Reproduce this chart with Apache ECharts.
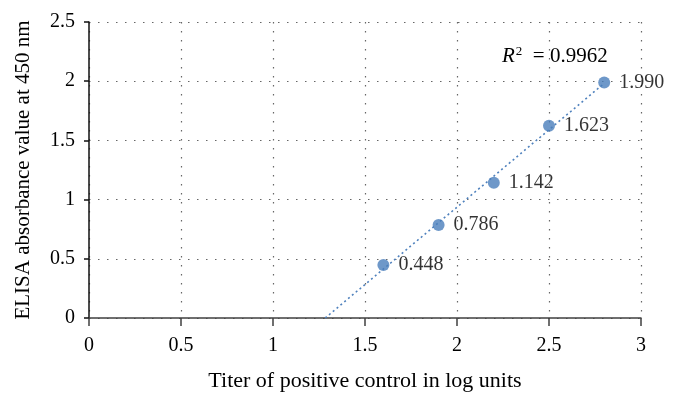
<!DOCTYPE html>
<html>
<head>
    <meta charset="utf-8">
    <title>ELISA titer</title>
    <script src="https://cdn.jsdelivr.net/npm/echarts@6/dist/echarts.min.js"></script>
</head>
<body style="margin:0">
<div id="main" style="width: 680px;height:403px;"></div>

<script type="text/javascript">
    // titer values (log units) and absorbance
    var titer = [1.6, 1.9, 2.2, 2.5, 2.8];
    var absorbance = [0.448, 0.786, 1.142, 1.623, 1.990];
    var r2Text = '0.9962';

    // least squares fit for the dotted trend line
    var n = titer.length, mx = 0, my = 0;
    for (var i = 0; i < n; i++) { mx += titer[i]; my += absorbance[i]; }
    mx = mx / n; my = my / n;
    var sxy = 0, sxx = 0;
    for (var i = 0; i < n; i++) {
        sxy += (titer[i] - mx) * (absorbance[i] - my);
        sxx += (titer[i] - mx) * (titer[i] - mx);
    }
    var slope = sxy / sxx;
    var icpt = my - slope * mx;
    var x0 = -icpt / slope;
    var xEnd = titer[n - 1];
    var trend = [[x0, 0], [xEnd, slope * xEnd + icpt]];

    var pts = [];
    for (var i = 0; i < n; i++) pts.push([titer[i], absorbance[i]]);

    var font = '"Liberation Serif", serif';
    var myChart = echarts.init(document.getElementById('main'));
    myChart.setOption({
        animation: false,
        textStyle: { fontFamily: font },
        grid: { left: 89, right: 39, top: 22, bottom: 85, outerBoundsMode: 'none', containLabel: false },
        xAxis: {
            type: 'value', min: 0, max: 3, interval: 0.5,
            name: 'Titer of positive control in log units',
            nameLocation: 'middle', nameGap: 52,
            nameTextStyle: { fontFamily: font, fontSize: 22, color: '#000' },
            axisLine: { lineStyle: { color: '#404040', width: 1.5 } },
            axisTick: { show: true, length: 8, lineStyle: { color: '#404040', width: 1.5 } },
            axisLabel: { margin: 18, fontFamily: font, fontSize: 20, color: '#000' },
            splitLine: { show: true, lineStyle: { type: [1.5, 7.5], color: '#666', width: 1.2 } }
        },
        yAxis: {
            type: 'value', min: 0, max: 2.5, interval: 0.5,
            name: 'ELISA absorbance value at 450 nm',
            nameLocation: 'middle', nameGap: 55,
            nameTextStyle: { fontFamily: font, fontSize: 21, color: '#000' },
            axisLine: { show: true, lineStyle: { color: '#111', width: 1.5 } },
            axisTick: { show: true, length: 5, lineStyle: { color: '#111', width: 1.5 } },
            axisLabel: { margin: 14, fontFamily: font, fontSize: 20, color: '#000' },
            splitLine: { show: true, lineStyle: { type: [1.5, 7.5], color: '#666', width: 1.2 } }
        },
        series: [
            {
                type: 'line',
                data: trend,
                symbol: 'none',
                lineStyle: { color: '#4F81BD', width: 1.6, type: [2, 3] },
                z: 2
            },
            {
                type: 'scatter',
                data: pts,
                symbolSize: 12,
                itemStyle: { color: '#4A7EBB' },
                label: {
                    show: true, position: 'right', distance: 9,
                    fontFamily: font, fontSize: 20, color: '#000',
                    formatter: function (p) { return p.value[1].toFixed(3); }
                },
                z: 3
            }
        ],
        graphic: [{
            type: 'text',
            left: 502, top: 45,
            style: {
                text: '{r|R}{s|2}{e|  = ' + r2Text + '}',
                rich: {
                    r: { fontFamily: font, fontStyle: 'italic', fontSize: 21, fill: '#000' },
                    s: { fontFamily: font, fontSize: 13, fill: '#000', verticalAlign: 'top', padding: [0, 0, 10, 1] },
                    e: { fontFamily: font, fontSize: 21, fill: '#000' }
                }
            }
        }]
    });
</script>
</body>
</html>
